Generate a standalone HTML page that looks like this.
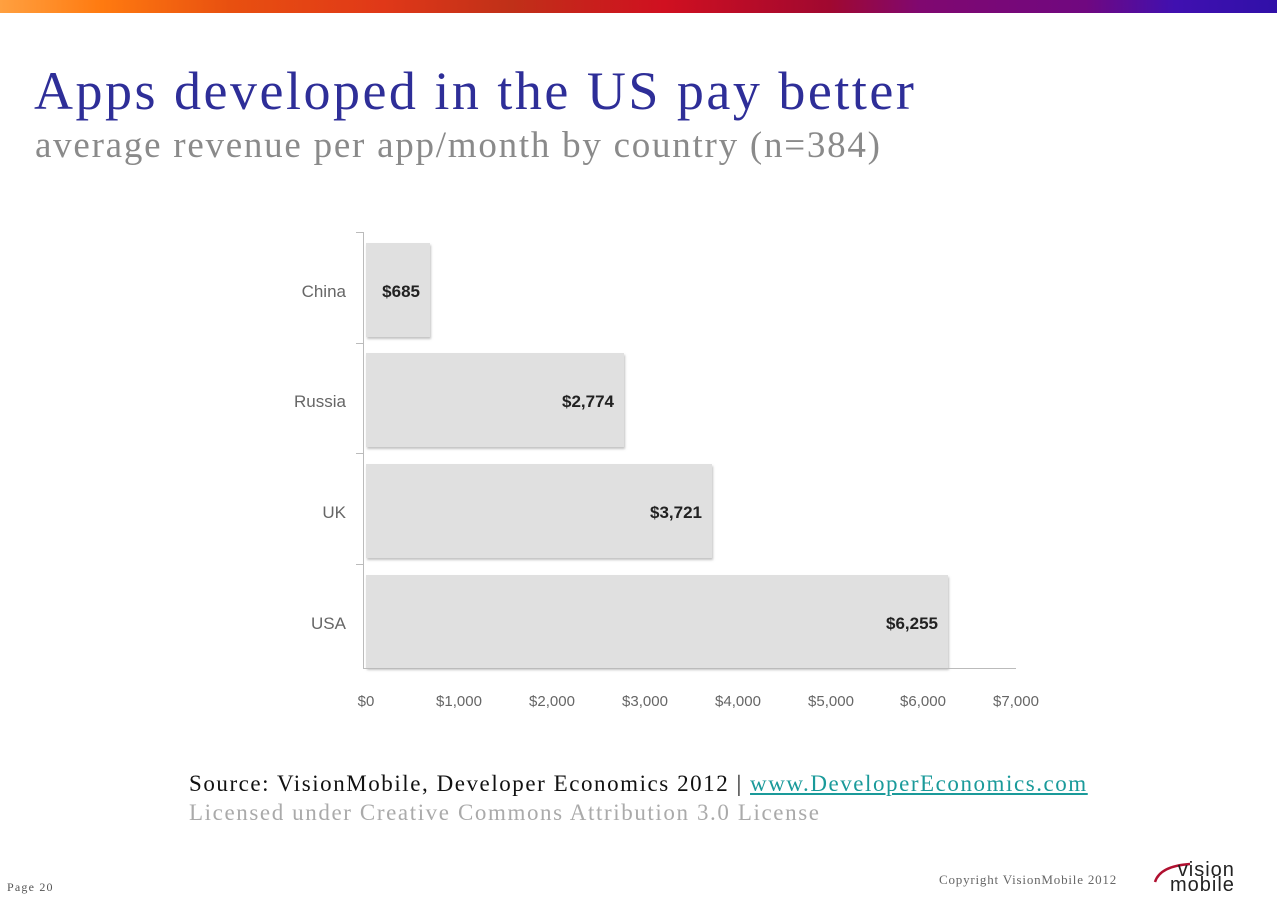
<!DOCTYPE html>
<html><head><style>
body{margin:0;width:1277px;height:904px;background:#fff;position:relative;overflow:hidden;font-family:"Liberation Serif",serif}
.t{position:absolute;white-space:nowrap}
.s{font-family:"Liberation Sans",sans-serif}
</style></head><body>
<div style="position:absolute;left:0;top:0;width:1277px;height:13px;background:linear-gradient(90deg,#ffa040 0%,#ff7a10 8%,#e85010 18%,#e03818 30%,#c03018 40%,#d01020 52%,#a00830 65%,#800870 72%,#700880 85%,#4010b0 92%,#3010a8 100%)"></div>
<div class="t" style="left:34px;top:60px;font-size:54px;letter-spacing:2.5px;color:#2e2e98">Apps developed in the US pay better</div>
<div class="t" style="left:35px;top:124px;font-size:37px;letter-spacing:1.75px;color:#8a8a8a">average revenue per app/month by country (n=384)</div>
<svg style="position:absolute;left:0;top:0" width="1277" height="904">
<defs><filter id="sh"><feDropShadow dx="1" dy="2" stdDeviation="1" flood-color="#999" flood-opacity="0.6"/></filter></defs>
<g fill="#e0e0e0" filter="url(#sh)">
<rect x="366" y="243" width="64" height="94"/>
<rect x="366" y="353" width="258" height="94"/>
<rect x="366" y="464" width="346" height="94"/>
<rect x="366" y="575" width="582" height="93"/>
</g>
<g stroke="#bbb" stroke-width="1" fill="none">
<line x1="363.5" y1="232" x2="363.5" y2="668"/>
<line x1="363" y1="668.5" x2="1016" y2="668.5"/>
<line x1="356" y1="232.5" x2="363" y2="232.5"/>
<line x1="356" y1="343.5" x2="363" y2="343.5"/>
<line x1="356" y1="453.5" x2="363" y2="453.5"/>
<line x1="356" y1="564.5" x2="363" y2="564.5"/>
</g>
<g font-family="Liberation Sans,sans-serif" font-size="17" fill="#666" text-anchor="end">
<text x="346" y="297">China</text><text x="346" y="407">Russia</text><text x="346" y="518">UK</text><text x="346" y="629">USA</text>
</g>
<g font-family="Liberation Sans,sans-serif" font-size="17" font-weight="bold" fill="#222" text-anchor="end">
<text x="420" y="297">$685</text><text x="614" y="407">$2,774</text><text x="702" y="518">$3,721</text><text x="938" y="629">$6,255</text>
</g>
<g font-family="Liberation Sans,sans-serif" font-size="15" fill="#666" text-anchor="middle">
<text x="366" y="706">$0</text><text x="459" y="706">$1,000</text><text x="552" y="706">$2,000</text><text x="645" y="706">$3,000</text><text x="738" y="706">$4,000</text><text x="831" y="706">$5,000</text><text x="923" y="706">$6,000</text><text x="1016" y="706">$7,000</text>
</g>
<path d="M1155 882 Q1160 866 1190 864" stroke="#b01030" stroke-width="2.5" fill="none"/>
</svg>
<div class="t" style="left:189px;top:771px;font-size:23px;letter-spacing:1.55px;color:#111">Source: VisionMobile, Developer Economics 2012 | <span style="color:#1a9a9a;text-decoration:underline">www.DeveloperEconomics.com</span></div>
<div class="t" style="left:189px;top:800px;font-size:23px;letter-spacing:1.6px;color:#aaa">Licensed under Creative Commons Attribution 3.0 License</div>
<div class="t" style="left:7px;top:880px;font-size:12px;letter-spacing:1.2px;color:#555">Page 20</div>
<div class="t" style="left:939px;top:872px;font-size:13px;letter-spacing:0.8px;color:#666">Copyright VisionMobile 2012</div>
<div class="t s" style="left:1170px;top:863px;font-size:20px;line-height:15px;letter-spacing:1px;color:#222;text-align:right">vision<br>mobile</div>
</body></html>
